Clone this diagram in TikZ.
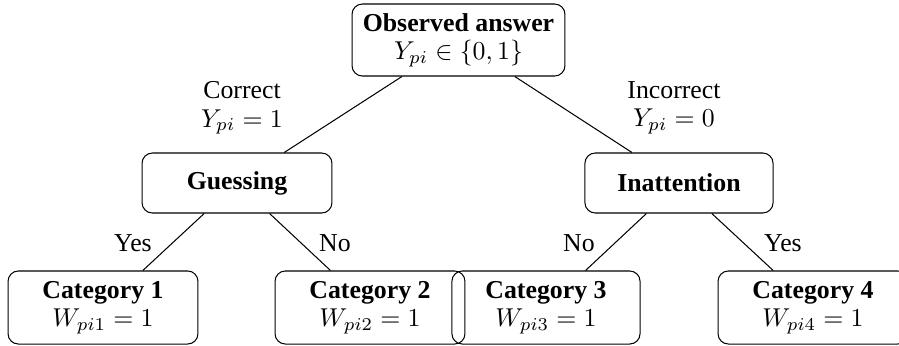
\documentclass[tikz,border=0pt]{standalone}
\usepackage{fontspec}
\setmainfont{Liberation Serif}
\begin{document}
\begin{tikzpicture}[x=0.3875pt, y=-0.3875pt,
  box/.style={draw, rounded corners, align=center, inner sep=3pt, font=\bfseries},
  lbl/.style={align=center, inner sep=1pt}]
  \useasboundingbox (0,0) rectangle (899,345);

  \node[box, minimum width=82.5pt, minimum height=27.9pt] (obs) at (458.5,40) {Observed answer\\[-1pt]$Y_{pi}\in\{0,1\}$};
  \node[box, minimum width=73.6pt, minimum height=23.25pt] (guess) at (237,183) {Guessing};
  \node[box, minimum width=72.9pt, minimum height=23.25pt] (inatt) at (679,183) {Inattention};
  \node[box, minimum width=73.6pt, minimum height=28.3pt] (cat1) at (103,307.5) {Category 1\\[-1pt]$W_{pi1}=1$};
  \node[box, minimum width=73.6pt, minimum height=28.3pt] (cat2) at (370,307.5) {Category 2\\[-1pt]$W_{pi2}=1$};
  \node[box, minimum width=72.9pt, minimum height=28.3pt] (cat3) at (546,307.5) {Category 3\\[-1pt]$W_{pi3}=1$};
  \node[box, minimum width=73.6pt, minimum height=28.3pt] (cat4) at (813,307.5) {Category 4\\[-1pt]$W_{pi4}=1$};

  \node[lbl] (correct) at (242,108) {Correct\\[-1pt]$Y_{pi}=1$};
  \node[lbl] (incorrect) at (674,108) {Incorrect\\[-1pt]$Y_{pi}=0$};
  \node[lbl] (yesA) at (133,243) {Yes};
  \node[lbl] (noA) at (335,243) {No};
  \node[lbl] (noB) at (579,243) {No};
  \node[lbl] (yesB) at (783,243) {Yes};

  \draw (obs) -- (guess);
  \draw (obs) -- (inatt);
  \draw (guess) -- (cat1);
  \draw (guess) -- (cat2);
  \draw (inatt) -- (cat3);
  \draw (inatt) -- (cat4);
\end{tikzpicture}
\end{document}
